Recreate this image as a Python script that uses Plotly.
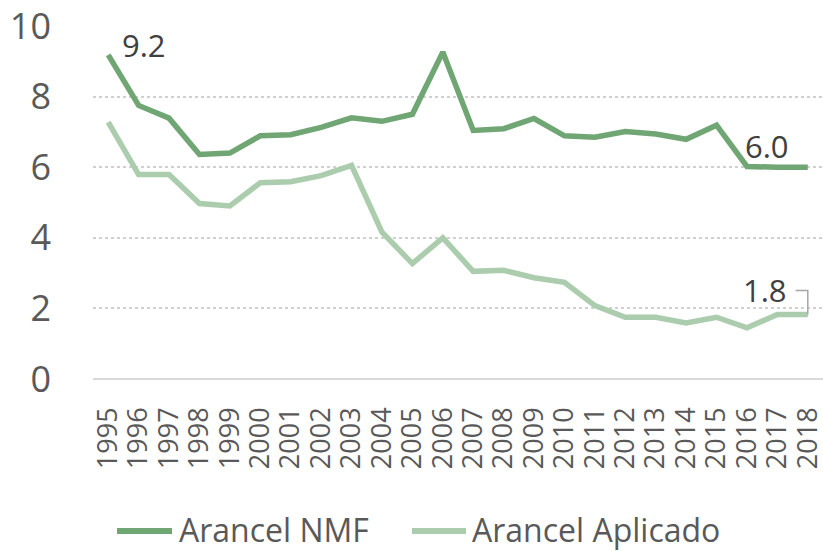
import plotly.graph_objects as go

years = list(range(1995, 2019))
arancel_nmf = [9.18, 7.75, 7.39, 6.36, 6.4, 6.89, 6.92, 7.13, 7.4, 7.3, 7.5, 9.26,
               7.04, 7.09, 7.38, 6.89, 6.85, 7.01, 6.94, 6.79, 7.19, 6.02, 6.0, 6.0]
arancel_aplicado = [7.28, 5.79, 5.79, 4.97, 4.9, 5.56, 5.59, 5.76, 6.05, 4.16, 3.27, 4.0,
                    3.05, 3.08, 2.87, 2.74, 2.08, 1.75, 1.75, 1.59, 1.75, 1.45, 1.83, 1.83]
series_names = ["Arancel NMF", "Arancel Aplicado"]
label_nmf_first = "9.2"
label_nmf_last = "6.0"
label_apl_last = "1.8"

c_nmf = "#6fa673"
c_apl = "#abcdae"
colors = [c_nmf, c_apl]
font_family = "Open Sans, Noto Sans, sans-serif"

fig = go.Figure()
fig.add_trace(go.Scatter(x=years, y=arancel_nmf, mode="lines", name=series_names[0],
                         line=dict(color=c_nmf, width=5.5), showlegend=False))
fig.add_trace(go.Scatter(x=years, y=arancel_aplicado, mode="lines", name=series_names[1],
                         line=dict(color=c_apl, width=5.5), showlegend=False))

# data labels
fig.add_annotation(x=years[0], y=arancel_nmf[0], text=label_nmf_first, showarrow=False,
                   xanchor="left", yanchor="middle", xshift=12, yshift=10,
                   font=dict(size=31, color="#404040", family=font_family))
fig.add_annotation(x=years[-1], y=arancel_nmf[-1], text=label_nmf_last, showarrow=False,
                   xanchor="center", yanchor="middle", xshift=-41, yshift=21,
                   font=dict(size=31, color="#404040", family=font_family))
fig.add_annotation(x=years[-1], y=arancel_aplicado[-1], text=label_apl_last, showarrow=False,
                   xanchor="center", yanchor="middle", xshift=-43, yshift=24,
                   font=dict(size=31, color="#404040", family=font_family))
# leader line for 1.8 label
fig.add_shape(type="path", xref="x", yref="y",
              path=f"M {years[-1] - 0.4},{arancel_aplicado[-1] + 0.68} L {years[-1]},{arancel_aplicado[-1] + 0.68} L {years[-1]},{arancel_aplicado[-1]}",
              line=dict(color="#a6a6a6", width=1.5))

# legend drawn manually (longer line samples, as in the reference)
plot_l, plot_w, plot_b, plot_h = 93, 730, 379, 353
def px_x(v):
    return (v - plot_l) / plot_w
def px_y(v):
    return (plot_b - v) / plot_h
legend_items = [(117, 172, 177), (412, 466, 470)]
legend_y = 529
for (x0, x1, xt), name, col in zip(legend_items, series_names, colors):
    fig.add_shape(type="line", xref="paper", yref="paper",
                  x0=px_x(x0), x1=px_x(x1), y0=px_y(legend_y + 2), y1=px_y(legend_y + 2),
                  line=dict(color=col, width=6))
    fig.add_annotation(xref="paper", yref="paper", x=px_x(xt), y=px_y(legend_y),
                       text=name, showarrow=False, xanchor="left", yanchor="middle",
                       font=dict(size=32, color="#595959", family=font_family))

fig.update_layout(
    width=823, height=551,
    margin=dict(l=93, r=0, t=26, b=172, autoexpand=False),
    paper_bgcolor="white", plot_bgcolor="white",
    font=dict(family=font_family, color="#595959"),
    showlegend=False,
)
fig.update_xaxes(range=[1994.5, 2018.5], tickmode="array", tickvals=years,
                 ticktext=[str(y) for y in years], tickangle=-90,
                 tickfont=dict(size=27, color="#595959"),
                 showgrid=False, zeroline=False, showline=False, ticks="",
                 ticklabelstandoff=22, ticklabeloverflow="allow", automargin=False)
fig.update_yaxes(range=[0, 10], tickvals=[0, 2, 4, 6, 8, 10],
                 tickfont=dict(size=36, color="#595959"),
                 showgrid=True, gridcolor="#d0d0d0", griddash="dot", gridwidth=1.5,
                 zeroline=True, zerolinecolor="#d9d9d9", zerolinewidth=2,
                 showline=False, ticks="", ticklabelstandoff=41, automargin=False)

fig.write_html("out.html", config={"displayModeBar": False},
               post_script="document.body.style.margin='0';")
